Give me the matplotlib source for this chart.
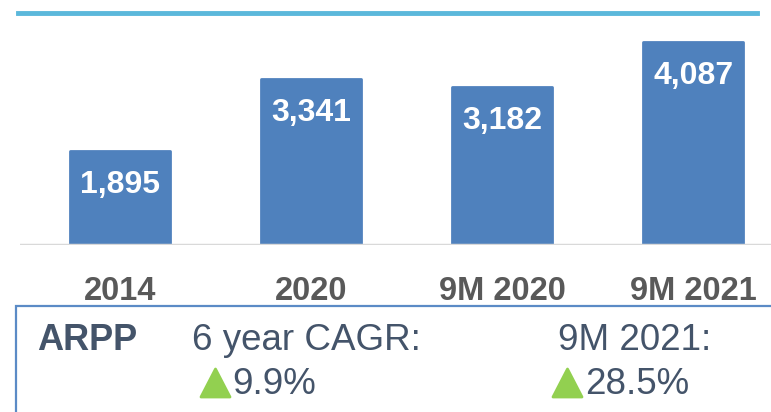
import matplotlib.pyplot as plt
from matplotlib.patches import Rectangle, Polygon

# ARPP 数据
periods = ['2014', '2020', '9M 2020', '9M 2021']
arpp = [1895, 3341, 3182, 4087]
labels = ['1,895', '3,341', '3,182', '4,087']
cagr_text = '9.9%'
growth_text = '28.5%'

W, H = 771, 412
fig = plt.figure(figsize=(W / 100, H / 100), dpi=100)
plt.rcParams['font.family'] = ['Liberation Sans', 'DejaVu Sans']


def fx(px):
    return px / W


def fy(py):
    return 1 - py / H


# 柱状图区域（像素换算成图像坐标）
ax = fig.add_axes([fx(20), fy(245), fx(771) - fx(20), fy(20) - fy(245)])
x = list(range(len(periods)))
bars = ax.bar(x, arpp, width=0.526, color='#4F81BD', edgecolor='#4F81BD', lw=2, zorder=2)
for b in bars:
    b.set_joinstyle('round')
ax.set_xlim(-0.5236, 3.408)
ax.set_ylim(0, 4530)
for i in x:
    ax.text(i, arpp[i] - 680, labels[i], ha='center', va='center', color='white',
            fontsize=23, fontweight='bold')
ax.axhline(0, color='#D9D9D9', lw=2.5, zorder=3)
ax.set_yticks([])
ax.set_xticks(x)
ax.set_xticklabels(periods, fontsize=23.5, fontweight='bold', color='#595959')
ax.tick_params(axis='x', length=0, pad=22)
for s in ax.spines.values():
    s.set_visible(False)

# 顶部蓝色横线
fig.add_artist(plt.Line2D([fx(18), fx(757)], [fy(13), fy(13)], color='#5BB8DB', lw=3.5))

# 底部文字框
fig.add_artist(Rectangle((fx(16), fy(420)), fx(800) - fx(16), fy(306) - fy(420),
                         fill=False, edgecolor='#5B8BC6', lw=1.6))

tc = '#44546A'
fig.text(fx(37), fy(340), 'ARPP', fontsize=26, fontweight='bold', color=tc, va='center')
fig.text(fx(192), fy(340), '6 year CAGR:', fontsize=26.5, color=tc, va='center')
fig.text(fx(558), fy(340), '9M 2021:', fontsize=26.5, color=tc, va='center')
fig.text(fx(232), fy(384), cagr_text, fontsize=26.5, color=tc, va='center')
fig.text(fx(585), fy(384), growth_text, fontsize=26.5, color=tc, va='center')

# 绿色上升三角
for left in (201, 553):
    tri = Polygon([(fx(left), fy(397)), (fx(left + 29), fy(397)), (fx(left + 14.5), fy(369))],
                  closed=True, facecolor='#92D050', edgecolor='#92D050', lw=2, joinstyle='round')
    fig.add_artist(tri)

fig.savefig('out.png', dpi=100)
